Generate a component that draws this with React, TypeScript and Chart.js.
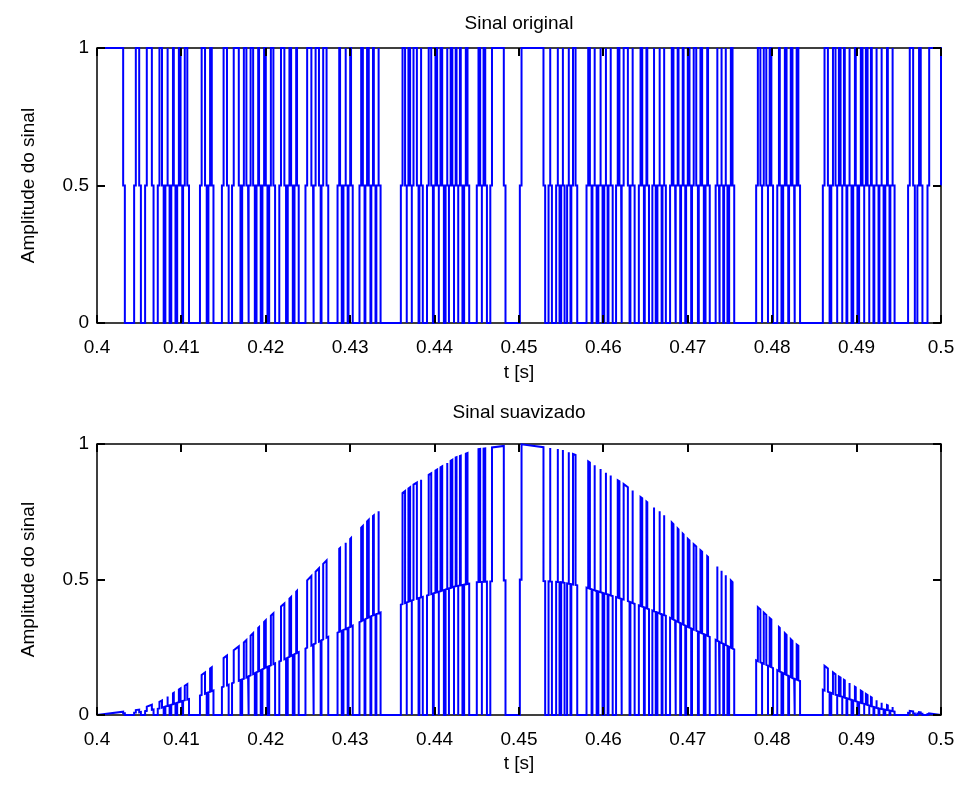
import React, { useEffect, useRef } from 'react';
import { Chart, registerables } from 'chart.js';

Chart.register(...registerables);

// Times (ms) where the original signal rises to 1 and falls back to 0
const highStartMs = [
  400.0, 404.5, 405.8, 407.3, 408.2, 408.9, 409.6, 410.3, 412.3, 413.3,
  414.9, 416.1, 417.3, 418.1, 419.0, 419.7, 420.5, 421.7, 422.7, 423.5,
  424.8, 425.8, 426.7, 428.6, 429.3, 429.9, 431.2, 431.9, 432.6, 433.2,
  436.1, 436.8, 437.4, 438.3, 439.2, 440.0, 440.6, 441.4, 441.8, 442.4,
  442.9, 443.6, 445.1, 445.7, 446.7, 450.2, 453.6, 454.5,
  455.1, 455.8, 456.3, 458.1, 458.8, 459.5, 460.2, 460.7, 461.6, 462.3,
  463.3, 464.3, 465.0, 465.9, 466.5, 467.1, 468.0, 468.7, 469.3, 469.9,
  470.6, 471.4, 472.2, 473.4, 473.9, 474.4, 475.0, 478.2, 478.9, 479.6,
  480.7, 481.4, 482.1, 482.8, 486.1, 487.1, 487.8, 488.4, 489.0, 489.7,
  490.4, 491.0, 491.6, 492.2, 492.8, 493.5, 494.1, 496.2, 497.3, 498.5,
];
const highEndMs = [
  403.2, 405.1, 406.6, 407.8, 408.5, 409.2, 410.0, 410.8, 412.9, 413.7,
  415.5, 416.9, 417.8, 418.6, 419.3, 420.1, 421.0, 422.3, 423.1, 423.8,
  425.5, 426.4, 427.3, 428.9, 429.6, 430.2, 431.6, 432.3, 432.9, 433.5,
  436.6, 437.2, 438.0, 438.5, 439.7, 440.4, 441.0, 441.6, 442.2, 442.7,
  443.2, 444.0, 445.5, 446.1, 448.3, 453.0, 453.8, 454.7,
  455.3, 456.0, 456.8, 458.5, 459.1, 459.8, 460.4, 461.0, 462.0, 463.0,
  463.6, 464.7, 465.3, 466.1, 466.8, 467.3, 468.4, 469.0, 469.6, 470.3,
  471.1, 471.8, 472.5, 473.6, 474.1, 474.6, 475.4, 478.7, 479.4, 480.0,
  481.0, 481.8, 482.5, 483.2, 486.7, 487.6, 488.2, 488.7, 489.3, 490.0,
  490.8, 491.4, 491.9, 492.5, 493.1, 493.8, 494.4, 496.8, 497.7, 500.0,
];
// Duration (ms) of the half-level sample at each transition
const transitionHalfMs = 0.1;

// Smoothing window, every 2.5 ms from 400 ms to 500 ms
const envelopeStepMs = 2.5;
const envelopeGain = [
  0.0, 0.01, 0.02, 0.05, 0.1, 0.15, 0.21, 0.27, 0.35, 0.42,
  0.5, 0.58, 0.65, 0.73, 0.79, 0.85, 0.9, 0.95, 0.98, 0.99,
  1.0,
  0.99, 0.98, 0.95, 0.9, 0.85, 0.79, 0.73, 0.65, 0.58, 0.5,
  0.42, 0.35, 0.27, 0.21, 0.15, 0.1, 0.05, 0.02, 0.01, 0.0,
];

const xTicks = [0.4, 0.41, 0.42, 0.43, 0.44, 0.45, 0.46, 0.47, 0.48, 0.49, 0.5];
const yTicks = [0, 0.5, 1];
const titleTop = 'Sinal original';
const titleBottom = 'Sinal suavizado';
const xLabel = 't [s]';
const yLabel = 'Amplitude do sinal';

const FONT = { family: '"Liberation Sans", Arial, Helvetica, sans-serif', size: 19, weight: 'normal' as const };

type Pt = { x: number; y: number };

function buildOriginal(): Pt[] {
  const h = transitionHalfMs;
  const pts: Pt[] = [];
  const T0 = 400;
  const T1 = 500;
  if (highStartMs[0] > T0) pts.push({ x: T0, y: 0 });
  for (let i = 0; i < highStartMs.length; i++) {
    const r = highStartMs[i];
    const f = highEndMs[i];
    if (r <= T0) {
      pts.push({ x: T0, y: 1 });
    } else {
      pts.push({ x: r - h, y: 0 }, { x: r - h, y: 0.5 }, { x: r + h, y: 0.5 }, { x: r + h, y: 1 });
    }
    if (f >= T1) {
      pts.push({ x: T1, y: 1 }, { x: T1, y: 0.5 });
    } else {
      pts.push({ x: f - h, y: 1 }, { x: f - h, y: 0.5 }, { x: f + h, y: 0.5 }, { x: f + h, y: 0 });
    }
  }
  const last = highEndMs[highEndMs.length - 1];
  if (last < T1) pts.push({ x: T1, y: 0 });
  return pts;
}

function gainAt(ms: number): number {
  const p = (ms - 400) / envelopeStepMs;
  const i = Math.max(0, Math.min(envelopeGain.length - 2, Math.floor(p)));
  const f = Math.max(0, Math.min(1, p - i));
  return envelopeGain[i] * (1 - f) + envelopeGain[i + 1] * f;
}

const originalPts = buildOriginal();
const smoothPts = originalPts.map((p) => ({ x: p.x, y: p.y * gainAt(p.x) }));

const matlabAxes = {
  id: 'matlabAxes',
  beforeDatasetsDraw(chart: any) {
    const { ctx, chartArea } = chart;
    const l = Math.round(chartArea.left);
    const r = Math.round(chartArea.right);
    const t = Math.round(chartArea.top);
    const b = Math.round(chartArea.bottom);
    ctx.save();
    ctx.strokeStyle = '#000';
    ctx.lineWidth = 1.5;
    ctx.strokeRect(l, t, r - l, b - t);
    ctx.restore();
  },
  afterDatasetsDraw(chart: any) {
    const { ctx, chartArea, scales } = chart;
    const len = 8;
    const t = Math.round(chartArea.top);
    const b = Math.round(chartArea.bottom);
    const l = Math.round(chartArea.left);
    const r = Math.round(chartArea.right);
    ctx.save();
    ctx.strokeStyle = '#000';
    ctx.lineWidth = 2;
    ctx.beginPath();
    for (const v of xTicks) {
      const x = Math.round(scales.x.getPixelForValue(v));
      ctx.moveTo(x, b);
      ctx.lineTo(x, b - len);
      ctx.moveTo(x, t);
      ctx.lineTo(x, t + len);
    }
    for (const v of yTicks) {
      const y = Math.round(scales.y.getPixelForValue(v));
      ctx.moveTo(l, y);
      ctx.lineTo(l + len, y);
      ctx.moveTo(r, y);
      ctx.lineTo(r - len, y);
    }
    ctx.stroke();
    ctx.restore();
  },
};

function makeConfig(
  pts: Pt[],
  title: string,
  titlePad: { top: number; bottom: number },
  xAxisHeight: number,
  xTitlePadBottom: number
) {
  return {
    type: 'scatter' as const,
    data: {
      datasets: [
        {
          data: pts.map((p) => ({ x: p.x / 1000, y: p.y })),
          showLine: true,
          borderColor: '#0000ff',
          backgroundColor: '#0000ff',
          borderWidth: 2,
          pointRadius: 0,
          pointHoverRadius: 0,
          fill: false,
          tension: 0,
          clip: 3,
        },
      ],
    },
    options: {
      animation: false as const,
      responsive: false,
      maintainAspectRatio: false,
      devicePixelRatio: 1,
      events: [],
      layout: { padding: { left: 0, right: 18, top: 0, bottom: 0 } },
      plugins: {
        legend: { display: false },
        tooltip: { enabled: false },
        title: {
          display: true,
          text: title,
          fullSize: false,
          color: '#000',
          font: FONT,
          padding: titlePad,
        },
      },
      scales: {
        x: {
          type: 'linear' as const,
          min: 0.4,
          max: 0.5,
          afterBuildTicks: (s: any) => {
            s.ticks = xTicks.map((v) => ({ value: v }));
          },
          afterFit: (s: any) => {
            s.height = xAxisHeight;
            s.paddingLeft = 0;
            s.paddingRight = 0;
          },
          grid: { display: false, drawTicks: false },
          border: { display: false },
          ticks: {
            color: '#000',
            font: FONT,
            padding: 13.5,
            maxRotation: 0,
            autoSkip: false,
            callback: (v: any) => String(v),
          },
          title: {
            display: true,
            text: xLabel,
            color: '#000',
            font: FONT,
            padding: { top: 0, bottom: xTitlePadBottom },
          },
        },
        y: {
          type: 'linear' as const,
          min: 0,
          max: 1,
          afterBuildTicks: (s: any) => {
            s.ticks = yTicks.map((v) => ({ value: v }));
          },
          afterFit: (s: any) => {
            s.width = 97;
            s.paddingTop = 0;
            s.paddingBottom = 0;
          },
          grid: { display: false, drawTicks: false },
          border: { display: false },
          ticks: {
            color: '#000',
            font: FONT,
            padding: 8,
            autoSkip: false,
            callback: (v: any) => String(v),
          },
          title: {
            display: true,
            text: yLabel,
            color: '#000',
            font: FONT,
            padding: { top: 17.5, bottom: 0 },
          },
        },
      },
    },
    plugins: [matlabAxes],
  };
}

export default function App() {
  const topRef = useRef<HTMLCanvasElement | null>(null);
  const botRef = useRef<HTMLCanvasElement | null>(null);

  useEffect(() => {
    document.body.style.margin = '0';
    const c1 = new Chart(
      topRef.current as HTMLCanvasElement,
      makeConfig(originalPts, titleTop, { top: 12.6, bottom: 12.6 }, 69, 8) as any
    );
    const c2 = new Chart(
      botRef.current as HTMLCanvasElement,
      makeConfig(smoothPts, titleBottom, { top: 9.6, bottom: 19.6 }, 70, 9.6) as any
    );
    return () => {
      c1.destroy();
      c2.destroy();
    };
  }, []);

  return (
    <div
      style={{
        position: 'absolute',
        left: 0,
        top: 0,
        width: 959,
        height: 785,
        background: '#ffffff',
        overflow: 'hidden',
      }}
    >
      <canvas
        ref={topRef}
        width={959}
        height={392}
        style={{ position: 'absolute', left: 0, top: 0, width: 959, height: 392 }}
      />
      <canvas
        ref={botRef}
        width={959}
        height={393}
        style={{ position: 'absolute', left: 0, top: 392, width: 959, height: 393 }}
      />
    </div>
  );
}
